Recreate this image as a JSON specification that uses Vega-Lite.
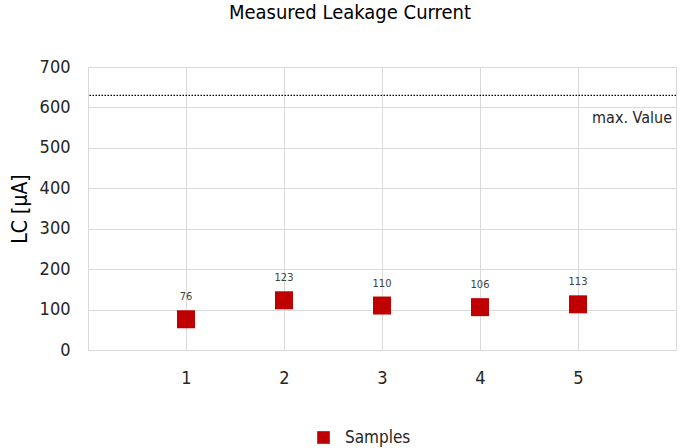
{
  "$schema": "https://vega.github.io/schema/vega-lite/v6.json",
  "autosize": {"type": "none"},
  "width": 588,
  "height": 283,
  "padding": {"left": 88, "top": 67, "right": 11, "bottom": 98},
  "background": "white",
  "title": {
    "text": "Measured Leakage Current",
    "font": "DejaVu Sans Condensed, Roboto, sans-serif",
    "fontSize": 20,
    "fontWeight": "normal",
    "color": "#000000",
    "anchor": "middle",
    "dx": -32,
    "offset": 35
  },
  "config": {
    "view": {"stroke": "#d9d9d9", "strokeWidth": 1},
    "font": "DejaVu Sans Condensed, Roboto, sans-serif"
  },
  "datasets": {
    "samples": [
      {"sample": 1, "lc": 76, "series": "Samples"},
      {"sample": 2, "lc": 123, "series": "Samples"},
      {"sample": 3, "lc": 110, "series": "Samples"},
      {"sample": 4, "lc": 106, "series": "Samples"},
      {"sample": 5, "lc": 113, "series": "Samples"}
    ],
    "limit": [{"x": 6, "y": 630, "label": "max. Value"}]
  },
  "layer": [
    {
      "data": {"name": "limit"},
      "mark": {"type": "rule", "color": "#000000", "strokeDash": [1.5, 1.5], "strokeWidth": 1.3},
      "encoding": {
        "y": {"field": "y", "type": "quantitative", "scale": {"domain": [0, 700]}}
      }
    },
    {
      "data": {"name": "limit"},
      "mark": {"type": "text", "align": "right", "baseline": "middle", "dx": -4, "dy": 23, "fontSize": 16, "color": "#262626", "font": "DejaVu Sans Condensed, Roboto, sans-serif"},
      "encoding": {
        "x": {"field": "x", "type": "quantitative", "scale": {"domain": [0, 6]}},
        "y": {"field": "y", "type": "quantitative"},
        "text": {"field": "label"}
      }
    },
    {
      "data": {"name": "samples"},
      "mark": {"type": "square", "size": 324, "opacity": 1, "filled": true},
      "encoding": {
        "x": {
          "field": "sample", "type": "quantitative",
          "scale": {"domain": [0, 6], "nice": false},
          "axis": {
            "title": null, "values": [0, 1, 2, 3, 4, 5, 6], "format": "d",
            "labelExpr": "datum.value >= 1 && datum.value <= 5 ? datum.label : ''",
            "ticks": false, "domain": true, "domainColor": "#d9d9d9",
            "grid": true, "gridColor": "#d9d9d9",
            "labelFontSize": 18, "labelColor": "#262626", "labelPadding": 19,
            "labelFont": "DejaVu Sans Condensed, Roboto, sans-serif"
          }
        },
        "y": {
          "field": "lc", "type": "quantitative",
          "scale": {"domain": [0, 700], "nice": false},
          "axis": {
            "title": "LC [µA]", "values": [0, 100, 200, 300, 400, 500, 600, 700],
            "ticks": false, "domain": false,
            "grid": true, "gridColor": "#d9d9d9",
            "labelFontSize": 18, "labelColor": "#262626", "labelPadding": 18,
            "labelFont": "DejaVu Sans Condensed, Roboto, sans-serif",
            "titleFont": "DejaVu Sans Condensed, Roboto, sans-serif", "titleFontSize": 21, "titleFontWeight": "normal",
            "titleColor": "#000000", "titlePadding": 9
          }
        },
        "color": {
          "field": "series", "type": "nominal",
          "scale": {"range": ["#C00000"]},
          "legend": {
            "title": null, "orient": "none", "legendX": 227, "legendY": 362,
            "symbolType": "square", "symbolSize": 160, "symbolOpacity": 1,
            "labelFontSize": 17, "labelColor": "#262626", "labelFont": "DejaVu Sans Condensed, Roboto, sans-serif",
            "labelOffset": 13
          }
        }
      }
    },
    {
      "data": {"name": "samples"},
      "mark": {"type": "text", "dy": -22, "fontSize": 11, "color": "#404040", "font": "DejaVu Sans Condensed, Roboto, sans-serif"},
      "encoding": {
        "x": {"field": "sample", "type": "quantitative"},
        "y": {"field": "lc", "type": "quantitative"},
        "text": {"field": "lc", "type": "quantitative"}
      }
    }
  ]
}
